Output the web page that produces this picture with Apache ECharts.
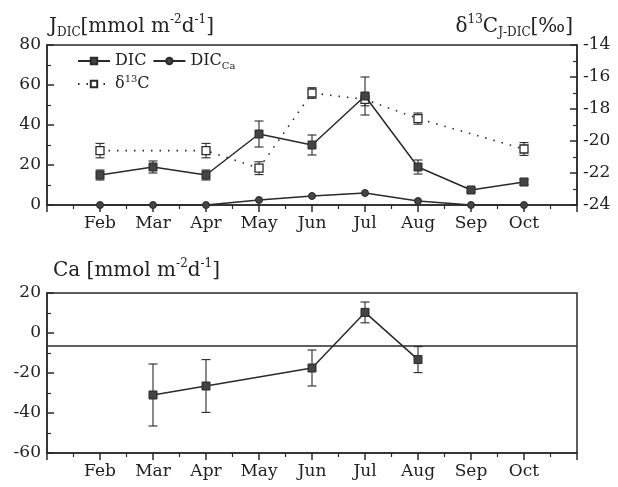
<!DOCTYPE html>
<html>
<head>
<meta charset="utf-8">
<script src="https://cdn.jsdelivr.net/npm/echarts@6/dist/echarts.min.js"></script>
<style>html,body{margin:0;padding:0;background:#fff}#c{width:618px;height:487px}</style>
</head>
<body>
<div id="c"></div>
<script>
var months = ['Feb','Mar','Apr','May','Jun','Jul','Aug','Sep','Oct'];
var dic = [15, 19, 15, 35.5, 30, 54.5, 19, 7.5, 11.5];
var dicErr = [2.5, 3, 2.5, 6.5, 5, 9.5, 3.5, 1, 1.5];
var dicCa = [0, 0, 0, 2.5, 4.5, 6, 2, 0, 0];
var d13c = [-20.6, null, -20.6, -21.7, -17.0, -17.4, -18.6, null, -20.5];
var d13cErr = [0.45, null, 0.45, 0.4, 0.33, 0.4, 0.35, null, 0.4];
var ca = [null, -31, -26.5, null, -17.5, 10.3, -13.3, null, null];
var caErr = [null, 15.5, 13.2, null, 9, 5.2, 6.5, null, null];
var caRef = -6.5;
var leftTicks = [0, 20, 40, 60, 80];
var rightTicks = [-24, -22, -20, -18, -16, -14];
var caTicks = [-60, -40, -20, 0, 20];

var FONT = 'DejaVu Serif';
var INK = '#2a2a2a';

function pts(arr) {
  return arr.map(function (v, i) { return [i + 2, v]; });
}
function errPts(vals, errs) {
  var out = [];
  vals.forEach(function (v, i) { if (v !== null && errs[i] !== null) out.push([i + 2, v, errs[i]]); });
  return out;
}
function errSeries(data, xi, yi) {
  return {
    type: 'custom', xAxisIndex: xi, yAxisIndex: yi, data: data, z: 1, silent: true,
    renderItem: function (params, api) {
      var x = api.value(0), y = api.value(1), e = api.value(2);
      var t = api.coord([x, y + e]), b = api.coord([x, y - e]);
      var hw = 4.5;
      var st = { stroke: INK, lineWidth: 1.1 };
      return { type: 'group', children: [
        { type: 'line', shape: { x1: t[0], y1: t[1], x2: b[0], y2: b[1] }, style: st },
        { type: 'line', shape: { x1: t[0] - hw, y1: t[1], x2: t[0] + hw, y2: t[1] }, style: st },
        { type: 'line', shape: { x1: b[0] - hw, y1: b[1], x2: b[0] + hw, y2: b[1] }, style: st }
      ]};
    }
  };
}
function xAxis(gi) {
  return {
    type: 'value', gridIndex: gi, min: 1, max: 11, interval: 1,
    axisLine: { show: true, onZero: false, lineStyle: { color: INK, width: 1.5 } },
    axisTick: { show: true, inside: false, length: 7, lineStyle: { color: INK, width: 1.5 } },
    minorTick: { show: true, splitNumber: 2, length: 4, lineStyle: { color: INK, width: 1.2 } },
    splitLine: { show: false },
    axisLabel: { fontFamily: FONT, fontSize: 17, color: '#222', margin: 10,
      formatter: function (v) { return months[v - 2] || ''; } }
  };
}
function yAxis(gi, ticks, pos, fmt) {
  return {
    type: 'value', gridIndex: gi, position: pos,
    min: ticks[0], max: ticks[ticks.length - 1], interval: ticks[1] - ticks[0],
    axisLine: { show: true, onZero: false, lineStyle: { color: INK, width: 1.5 } },
    axisTick: { show: true, inside: true, length: 7, lineStyle: { color: INK, width: 1.5 } },
    minorTick: { show: true, splitNumber: 2, length: 4, lineStyle: { color: INK, width: 1.2 } },
    splitLine: { show: false },
    axisLabel: { fontFamily: FONT, fontSize: 17, color: '#222', margin: 6, formatter: fmt }
  };
}
var rich = {
  m: { fontFamily: FONT, fontSize: 20, fontWeight: 'normal', color: '#222', lineHeight: 25, verticalAlign: 'middle' },
  sub: { fontFamily: FONT, fontSize: 12, fontWeight: 'normal', color: '#222', verticalAlign: 'bottom', lineHeight: 12 },
  sup: { fontFamily: FONT, fontSize: 12, fontWeight: 'normal', color: '#222', verticalAlign: 'top', lineHeight: 12 }
};
var lrich = {
  m: { fontFamily: FONT, fontSize: 16, color: '#222', lineHeight: 20, verticalAlign: 'middle' },
  sub: { fontFamily: FONT, fontSize: 10, color: '#222', verticalAlign: 'bottom', lineHeight: 10 },
  sup: { fontFamily: FONT, fontSize: 10, color: '#222', verticalAlign: 'top', lineHeight: 10 }
};
var legendNames = { 'DIC': '{m|DIC}', 'DIC_Ca': '{m|DIC}{sub|Ca}', 'd13C': '{m|δ}{sup|13}{m|C}' };

var chart = echarts.init(document.getElementById('c'), null, { renderer: 'canvas' });
chart.setOption({
  backgroundColor: '#fff',
  animation: false,
  title: [
    { left: 44, top: 9, text: '{m|J}{sub|DIC}{m|[mmol m}{sup|-2}{m|d}{sup|-1}{m|]}', textStyle: { fontWeight: 'normal', rich: rich } },
    { right: 40, top: 9, text: '{m|δ}{sup|13}{m|C}{sub|J-DIC}{m|[‰]}', textStyle: { fontWeight: 'normal', rich: rich } },
    { left: 48, top: 253, text: '{m|Ca [mmol m}{sup|-2}{m|d}{sup|-1}{m|]}', textStyle: { fontWeight: 'normal', rich: rich } }
  ],
  legend: [
    { left: 72, top: 48, itemWidth: 32, itemHeight: 8, itemGap: 6, data: ['DIC', 'DIC_Ca'],
      formatter: function (n) { return legendNames[n]; }, textStyle: { rich: lrich } },
    { left: 72, top: 69, itemWidth: 32, itemHeight: 8, data: ['d13C'],
      formatter: function (n) { return legendNames[n]; }, textStyle: { rich: lrich } }
  ],
  grid: [
    { left: 47, top: 45, width: 530, height: 160, show: true, borderColor: INK, borderWidth: 1.5, backgroundColor: 'transparent' },
    { left: 47, top: 293, width: 530, height: 160, show: true, borderColor: INK, borderWidth: 1.5, backgroundColor: 'transparent' }
  ],
  xAxis: [xAxis(0), xAxis(1)],
  yAxis: [
    yAxis(0, leftTicks, 'left'),
    yAxis(0, rightTicks, 'right'),
    yAxis(1, caTicks, 'left')
  ],
  series: [
    errSeries(errPts(d13c, d13cErr), 0, 1),
    { name: 'd13C', type: 'line', xAxisIndex: 0, yAxisIndex: 1, data: pts(d13c), connectNulls: true,
      symbol: 'rect', symbolSize: 8, z: 2,
      lineStyle: { color: INK, width: 1.6, type: [1.5, 7] },
      itemStyle: { color: '#fff', borderColor: INK, borderWidth: 1.3 } },
    errSeries(errPts(dic, dicErr), 0, 0),
    { name: 'DIC_Ca', type: 'line', xAxisIndex: 0, yAxisIndex: 0, data: pts(dicCa),
      symbol: 'circle', symbolSize: 7, z: 3,
      lineStyle: { color: INK, width: 1.5 }, itemStyle: { color: '#444', borderColor: INK, borderWidth: 1 } },
    { name: 'DIC', type: 'line', xAxisIndex: 0, yAxisIndex: 0, data: pts(dic),
      symbol: 'rect', symbolSize: 8, z: 4,
      lineStyle: { color: INK, width: 1.5 }, itemStyle: { color: '#444', borderColor: INK, borderWidth: 1 } },
    errSeries(errPts(ca, caErr), 1, 2),
    { name: 'Ca', type: 'line', xAxisIndex: 1, yAxisIndex: 2, data: pts(ca), connectNulls: true,
      symbol: 'rect', symbolSize: 8, z: 3,
      lineStyle: { color: INK, width: 1.5 }, itemStyle: { color: '#444', borderColor: INK, borderWidth: 1 },
      markLine: { silent: true, symbol: ['none', 'none'], label: { show: false },
        lineStyle: { color: INK, width: 1.5, type: 'solid' }, data: [{ yAxis: caRef }] } }
  ]
});
</script>
</body>
</html>
